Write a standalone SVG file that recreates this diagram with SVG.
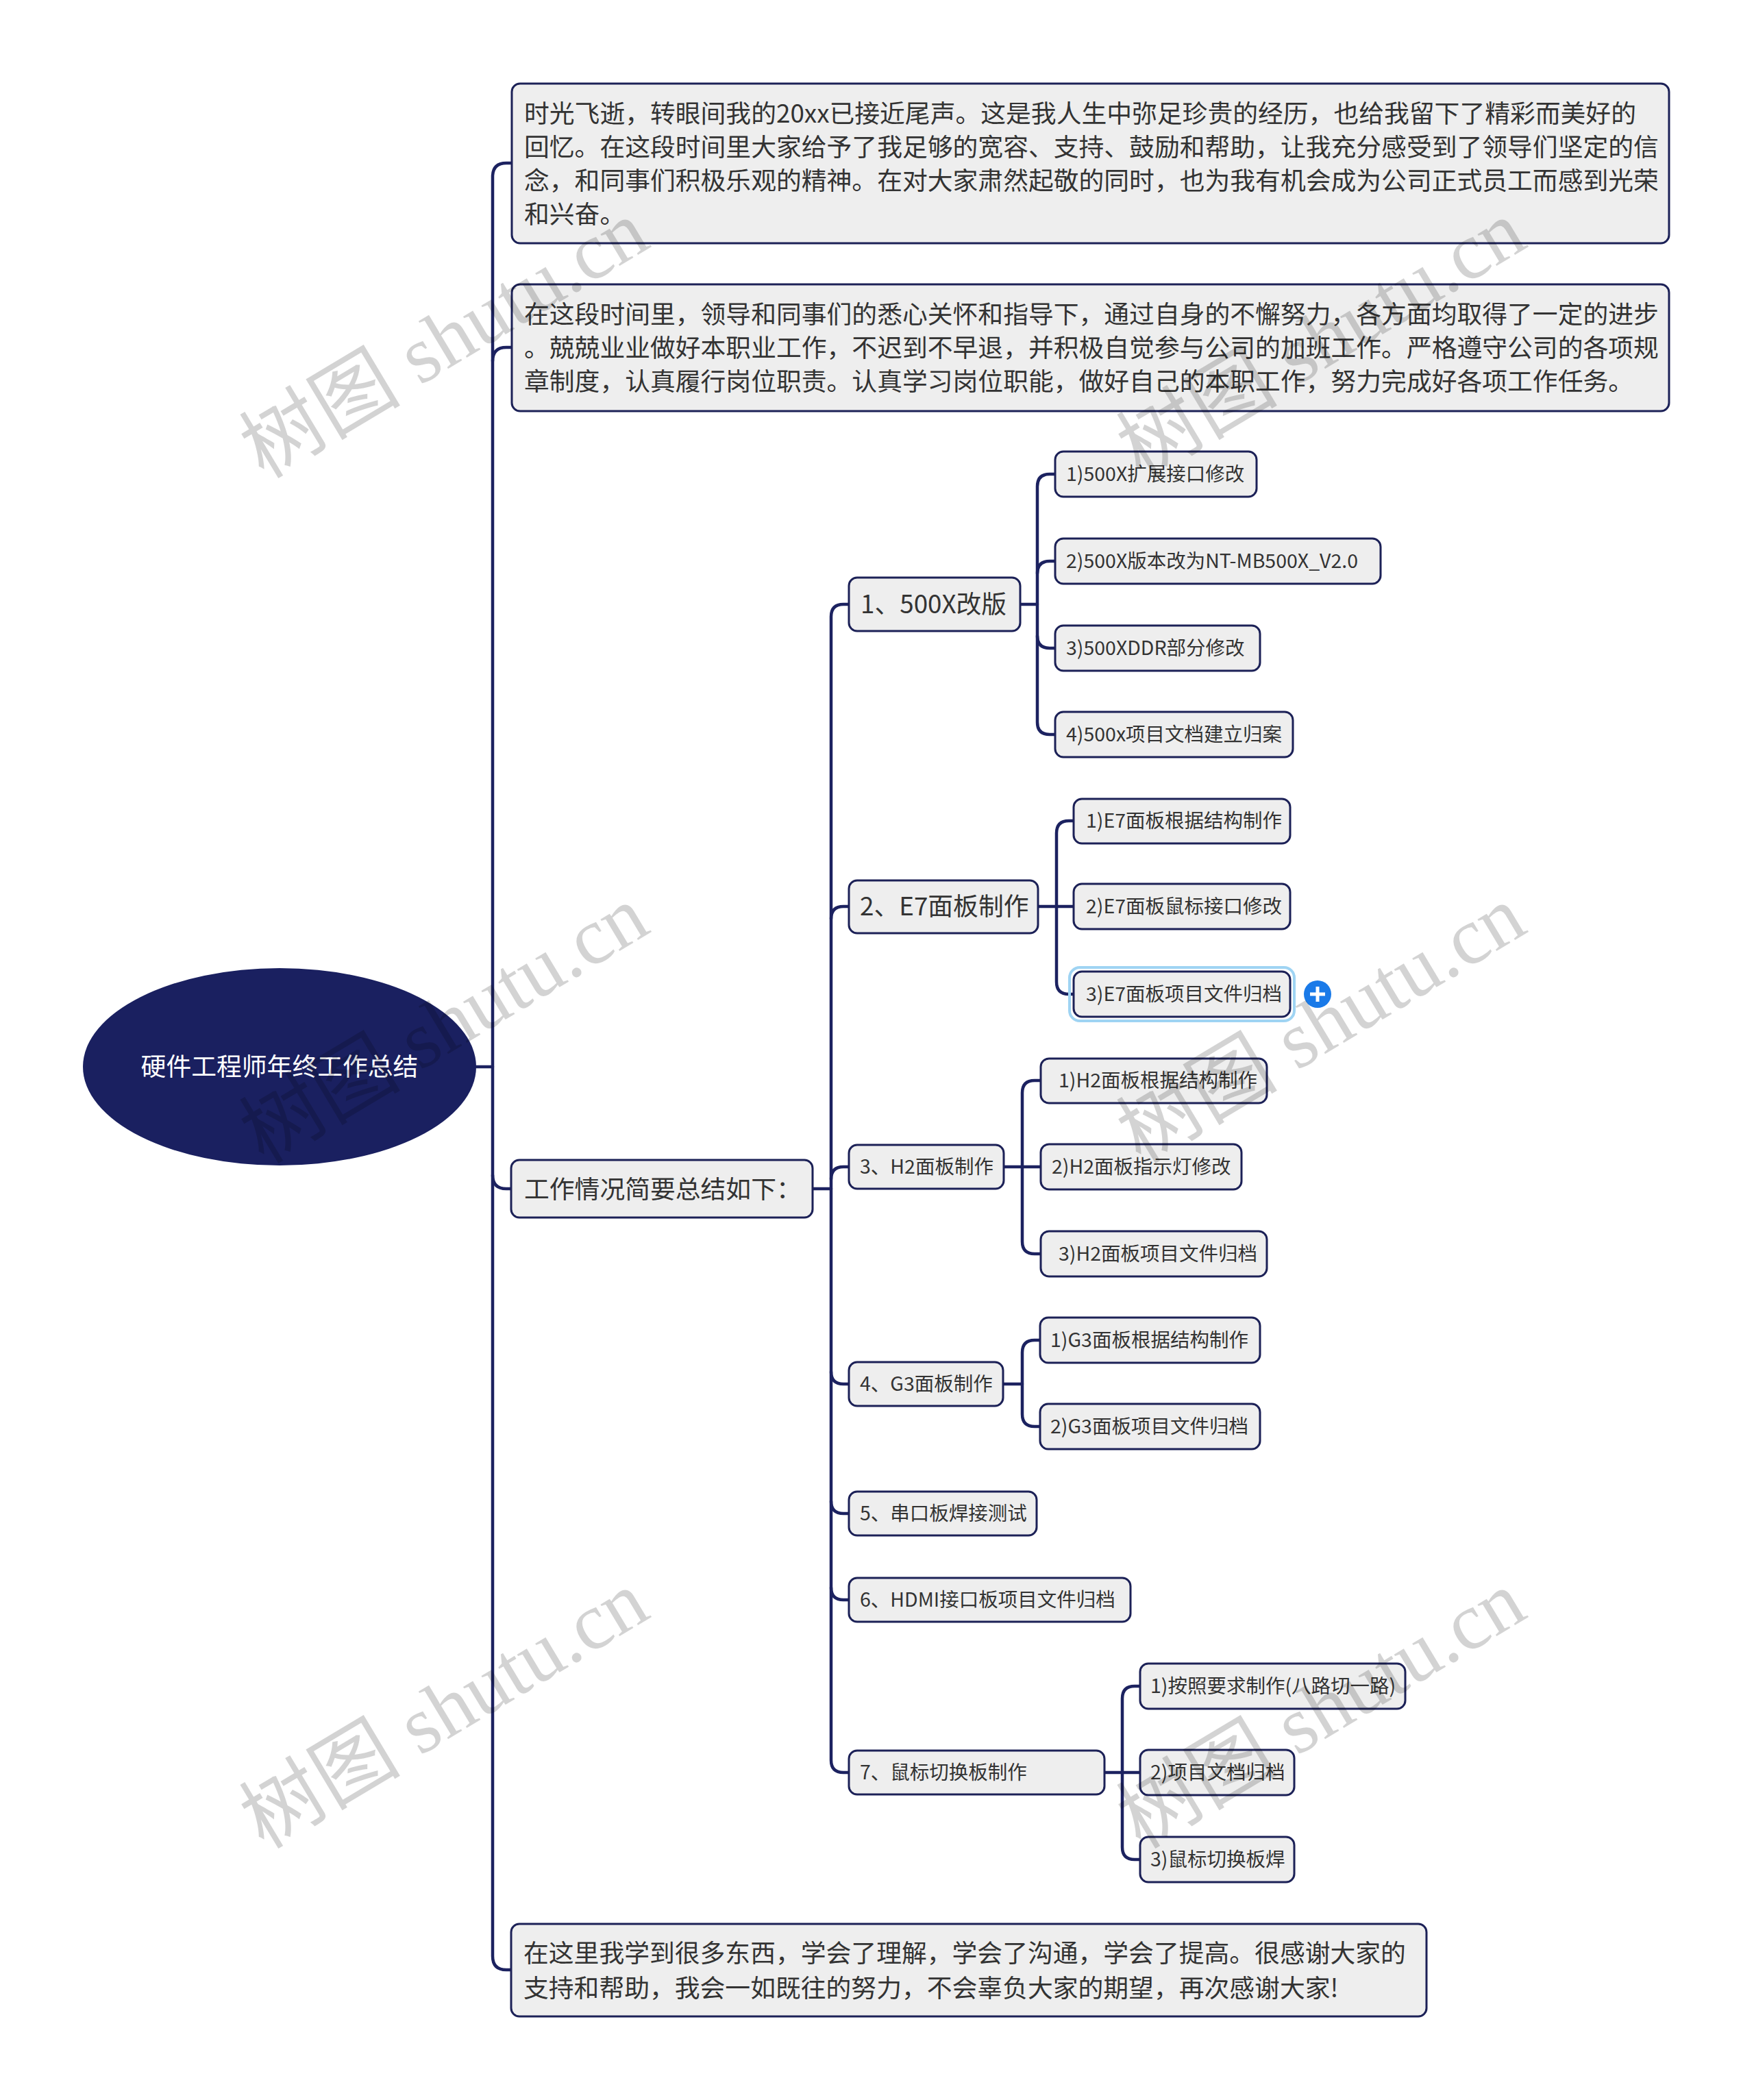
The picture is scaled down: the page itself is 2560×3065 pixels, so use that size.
<svg xmlns="http://www.w3.org/2000/svg" width="2560" height="3065" viewBox="0 0 2560 3065">
<style>
.box{fill:#eeeeee;stroke:#1c2157;stroke-width:3}
.t{font-family:"Noto Sans CJK SC","Noto Sans",sans-serif;fill:#333333}
.f36{font-size:36.8px}
.f28{font-size:28.5px}
.conn path{fill:none;stroke:#1c2260;stroke-width:4.5;stroke-linecap:round}
.wm{font-family:"Liberation Serif","Noto Sans CJK SC",serif;font-size:118px;fill:#000000;opacity:0.17}
</style>
<rect x="0" y="0" width="2560" height="3065" fill="#ffffff"/>
<g id="connectors" class="conn">
<path d="M 695 1557 H 719"/>
<path d="M 746 238 H 739 Q 719 238 719 258 V 2855 Q 719 2875 739 2875 H 746"/>
<path d="M 719 527 Q 719 507 739 507 H 746"/>
<path d="M 719 1715 Q 719 1735 739 1735 H 746"/>
<path d="M 1186 1735 H 1213"/>
<path d="M 1239 882 H 1231 Q 1213 882 1213 900 V 2569 Q 1213 2587 1231 2587 H 1239"/>
<path d="M 1213 1341 Q 1213 1323 1231 1323 H 1239"/>
<path d="M 1213 1721 Q 1213 1703 1231 1703 H 1239"/>
<path d="M 1213 2002 Q 1213 2020 1231 2020 H 1239"/>
<path d="M 1213 2191 Q 1213 2209 1231 2209 H 1239"/>
<path d="M 1213 2317 Q 1213 2335 1231 2335 H 1239"/>
<path d="M 1489 882 H 1514"/>
<path d="M 1540 692 H 1532 Q 1514 692 1514 710 V 1054 Q 1514 1072 1532 1072 H 1540"/>
<path d="M 1514 837 Q 1514 819 1532 819 H 1540"/>
<path d="M 1514 928 Q 1514 946 1532 946 H 1540"/>
<path d="M 1515 1323 H 1567"/>
<path d="M 1567 1198 H 1560 Q 1542 1198 1542 1216 V 1433 Q 1542 1451 1560 1451 H 1567"/>
<path d="M 1465 1703 H 1519"/>
<path d="M 1519 1577 H 1510 Q 1492 1577 1492 1595 V 1812 Q 1492 1830 1510 1830 H 1519"/>
<path d="M 1464 2020 H 1492"/>
<path d="M 1518 1956 H 1510 Q 1492 1956 1492 1974 V 2064 Q 1492 2082 1510 2082 H 1518"/>
<path d="M 1612 2587 H 1664"/>
<path d="M 1664 2461 H 1656 Q 1638 2461 1638 2479 V 2696 Q 1638 2714 1656 2714 H 1664"/>
</g>
<g id="root">
<ellipse cx="408" cy="1557" rx="287" ry="144" fill="#1a2060"/>
<text class="t f36" x="408" y="1570" text-anchor="middle" style="fill:#ffffff">硬件工程师年终工作总结</text>
</g>
<g id="p1">
<rect class="box" x="747" y="122" width="1689" height="233" rx="12"/>
<text class="t f36" x="765"><tspan x="765" y="179">时光飞逝，转眼间我的20xx已接近尾声。这是我人生中弥足珍贵的经历，也给我留下了精彩而美好的</tspan><tspan x="765" y="228">回忆。在这段时间里大家给予了我足够的宽容、支持、鼓励和帮助，让我充分感受到了领导们坚定的信</tspan><tspan x="765" y="277">念，和同事们积极乐观的精神。在对大家肃然起敬的同时，也为我有机会成为公司正式员工而感到光荣</tspan><tspan x="765" y="326">和兴奋。</tspan></text>
</g>
<g id="p2">
<rect class="box" x="747" y="415" width="1689" height="185" rx="12"/>
<text class="t f36" x="765"><tspan x="765" y="472">在这段时间里，领导和同事们的悉心关怀和指导下，通过自身的不懈努力，各方面均取得了一定的进步</tspan><tspan x="765" y="521">。兢兢业业做好本职业工作，不迟到不早退，并积极自觉参与公司的加班工作。严格遵守公司的各项规</tspan><tspan x="765" y="570">章制度，认真履行岗位职责。认真学习岗位职能，做好自己的本职工作，努力完成好各项工作任务。</tspan></text>
</g>
<g id="work">
<rect class="box" x="746" y="1693" width="440" height="84" rx="12"/>
<text class="t f36" x="765" y="1749">工作情况简要总结如下：</text>
</g>
<g id="n1">
<rect class="box" x="1239" y="843" width="250" height="78" rx="12"/>
<text class="t f36" x="1256" y="895">1、500X改版</text>
</g>
<g id="n2">
<rect class="box" x="1239" y="1285" width="276" height="77" rx="12"/>
<text class="t f36" x="1255" y="1336">2、E7面板制作</text>
</g>
<g id="n3">
<rect class="box" x="1239" y="1671" width="226" height="64" rx="12"/>
<text class="t f28" x="1255" y="1713">3、H2面板制作</text>
</g>
<g id="n4">
<rect class="box" x="1239" y="1988" width="225" height="64" rx="12"/>
<text class="t f28" x="1255" y="2030">4、G3面板制作</text>
</g>
<g id="n5">
<rect class="box" x="1239" y="2177" width="274" height="64" rx="12"/>
<text class="t f28" x="1255" y="2219">5、串口板焊接测试</text>
</g>
<g id="n6">
<rect class="box" x="1239" y="2303" width="411" height="64" rx="12"/>
<text class="t f28" x="1255" y="2345">6、HDMI接口板项目文件归档</text>
</g>
<g id="n7">
<rect class="box" x="1239" y="2555" width="373" height="64" rx="12"/>
<text class="t f28" x="1255" y="2597">7、鼠标切换板制作</text>
</g>
<g id="n1-1">
<rect class="box" x="1540" y="659" width="294" height="66" rx="12"/>
<text class="t f28" x="1556" y="702">1)500X扩展接口修改</text>
</g>
<g id="n1-2">
<rect class="box" x="1540" y="786" width="475" height="66" rx="12"/>
<text class="t f28" x="1556" y="829">2)500X版本改为NT-MB500X_V2.0</text>
</g>
<g id="n1-3">
<rect class="box" x="1540" y="913" width="299" height="66" rx="12"/>
<text class="t f28" x="1556" y="956">3)500XDDR部分修改</text>
</g>
<g id="n1-4">
<rect class="box" x="1540" y="1039" width="347" height="66" rx="12"/>
<text class="t f28" x="1556" y="1082">4)500x项目文档建立归案</text>
</g>
<g id="n2-1">
<rect class="box" x="1567" y="1166" width="316" height="65" rx="12"/>
<text class="t f28" x="1585" y="1208">1)E7面板根据结构制作</text>
</g>
<g id="n2-2">
<rect class="box" x="1567" y="1290" width="316" height="66" rx="12"/>
<text class="t f28" x="1585" y="1333">2)E7面板鼠标接口修改</text>
</g>
<g id="n2-3">
<rect x="1561" y="1412" width="328" height="78" rx="15" fill="none" stroke="#9fd4f3" stroke-width="4"/>
<rect class="box" x="1567" y="1418" width="316" height="66" rx="12"/>
<text class="t f28" x="1585" y="1461">3)E7面板项目文件归档</text>
<circle cx="1923" cy="1451" r="20" fill="#1a7ae8"/>
<path d="M 1912 1451 H 1934 M 1923 1440 V 1462" stroke="#ffffff" stroke-width="5" fill="none"/>
</g>
<g id="n3-1">
<rect class="box" x="1519" y="1545" width="330" height="65" rx="12"/>
<text class="t f28" x="1545" y="1587">1)H2面板根据结构制作</text>
</g>
<g id="n3-2">
<rect class="box" x="1519" y="1670" width="293" height="66" rx="12"/>
<text class="t f28" x="1535" y="1713">2)H2面板指示灯修改</text>
</g>
<g id="n3-3">
<rect class="box" x="1519" y="1797" width="330" height="66" rx="12"/>
<text class="t f28" x="1545" y="1840">3)H2面板项目文件归档</text>
</g>
<g id="n4-1">
<rect class="box" x="1518" y="1923" width="321" height="66" rx="12"/>
<text class="t f28" x="1533" y="1966">1)G3面板根据结构制作</text>
</g>
<g id="n4-2">
<rect class="box" x="1518" y="2049" width="321" height="66" rx="12"/>
<text class="t f28" x="1533" y="2092">2)G3面板项目文件归档</text>
</g>
<g id="n7-1">
<rect class="box" x="1664" y="2428" width="387" height="66" rx="12"/>
<text class="t f28" x="1679" y="2471">1)按照要求制作(八路切一路)</text>
</g>
<g id="n7-2">
<rect class="box" x="1664" y="2554" width="225" height="66" rx="12"/>
<text class="t f28" x="1679" y="2597">2)项目文档归档</text>
</g>
<g id="n7-3">
<rect class="box" x="1664" y="2681" width="225" height="66" rx="12"/>
<text class="t f28" x="1679" y="2724">3)鼠标切换板焊</text>
</g>
<g id="p3">
<rect class="box" x="746" y="2808" width="1336" height="135" rx="12"/>
<text class="t f36" x="764"><tspan x="764" y="2864">在这里我学到很多东西，学会了理解，学会了沟通，学会了提高。很感谢大家的</tspan><tspan x="764" y="2915">支持和帮助，我会一如既往的努力，不会辜负大家的期望，再次感谢大家!</tspan></text>
</g>
<g id="watermarks">
<text class="wm" x="385" y="700" transform="rotate(-31 385 700)">树图 shutu.cn</text>
<text class="wm" x="1665" y="700" transform="rotate(-31 1665 700)">树图 shutu.cn</text>
<text class="wm" x="385" y="1700" transform="rotate(-31 385 1700)">树图 shutu.cn</text>
<text class="wm" x="1665" y="1700" transform="rotate(-31 1665 1700)">树图 shutu.cn</text>
<text class="wm" x="385" y="2700" transform="rotate(-31 385 2700)">树图 shutu.cn</text>
<text class="wm" x="1665" y="2700" transform="rotate(-31 1665 2700)">树图 shutu.cn</text>
</g>
</svg>
